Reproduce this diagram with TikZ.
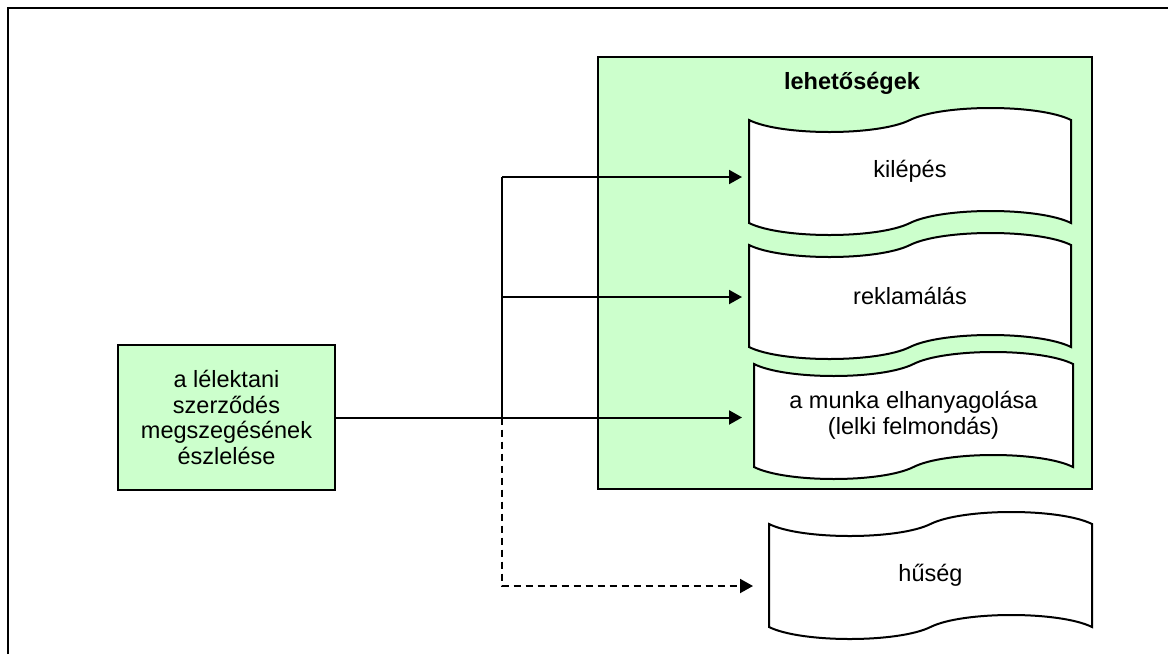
\documentclass[tikz,border=0pt]{standalone}
\usepackage{fontspec}
\setmainfont{Liberation Sans}
\usetikzlibrary{arrows.meta,calc}
\definecolor{boxgreen}{RGB}{204,255,204}
\pgfdeclarelayer{back}
\pgfdeclarelayer{bg}
\pgfsetlayers{back,bg,main}
\newcommand\tapeat[3]{%
  \begin{scope}[shift={(#1.north west)}]
    \filldraw[tapeline] (0,0) .. controls ({0.1*#2},16) and ({0.4*#2},16) .. ({0.5*#2},0)
      .. controls ({0.6*#2},-16) and ({0.9*#2},-16) .. (#2,0) -- (#2,#3)
      .. controls ({0.9*#2},{#3-16}) and ({0.6*#2},{#3-16}) .. ({0.5*#2},#3)
      .. controls ({0.4*#2},{#3+16}) and ({0.1*#2},{#3+16}) .. (0,#3) -- cycle;
  \end{scope}}
\begin{document}
\begin{tikzpicture}[x=1pt,y=-1pt,
  every node/.style={font=\fontsize{23.5}{25.5}\selectfont},
  tapebox/.style={inner sep=0pt,outer sep=0pt,align=center},
  tapeline/.style={draw=black,fill=white,line width=2pt},
  conn/.style={line width=2pt},
  arr/.style={conn,-{Triangle[length=13pt,width=14pt]}},
  greenbox/.style={draw=black,fill=boxgreen,line width=2pt}]
\useasboundingbox (0,0) rectangle (1168,654);
\draw[line width=2.5pt] (8,654) -- (8,8) -- (1168,8);

% container
\begin{pgfonlayer}{back}
\node[greenbox,minimum width=494pt,minimum height=432pt,inner sep=0pt] (grp) at (845,273) {};
\end{pgfonlayer}
\node[font=\fontsize{23.5}{25.5}\selectfont\bfseries] (title) at (852,83) {lehetőségek};

% source box
\node[greenbox,minimum width=217pt,minimum height=145pt,align=center,inner sep=2pt] (src) at (226.5,417.5)
  {a lélektani\\szerződés\\megszegésének\\észlelése};

% tape shapes
\node[tapebox,minimum width=322pt,minimum height=103pt] (k) at (910,171.5) {kilépés};
\node[tapebox,minimum width=322pt,minimum height=102pt] (r) at (910,296) {reklamálás};
\node[tapebox,minimum width=319pt,minimum height=103pt] (m) at (913.5,415.5) {a munka elhanyagolása\\(lelki felmondás)};
\node[tapebox,minimum width=323pt,minimum height=103pt] (h) at (930.5,575.5) {hűség};
\begin{pgfonlayer}{bg}
\tapeat{k}{322}{103}
\tapeat{r}{322}{102}
\tapeat{m}{319}{103}
\tapeat{h}{323}{103}
\end{pgfonlayer}

% connectors
\coordinate (j1) at (502,177);
\coordinate (j2) at (502,297);
\coordinate (j4) at (502,586);
\draw[conn] (j1) -- (src.east -| j1);
\draw[arr,shorten >=7pt] (j1) -- (j1 -| k.west);
\draw[arr,shorten >=7pt] (j2) -- (j2 -| r.west);
\draw[arr,shorten >=12pt] (src.east) -- (src.east -| m.west);
\draw[arr,dash pattern=on 7pt off 5pt,shorten >=16pt] (src.east -| j1) -- (j4) -- (j4 -| h.west);
\end{tikzpicture}
\end{document}
